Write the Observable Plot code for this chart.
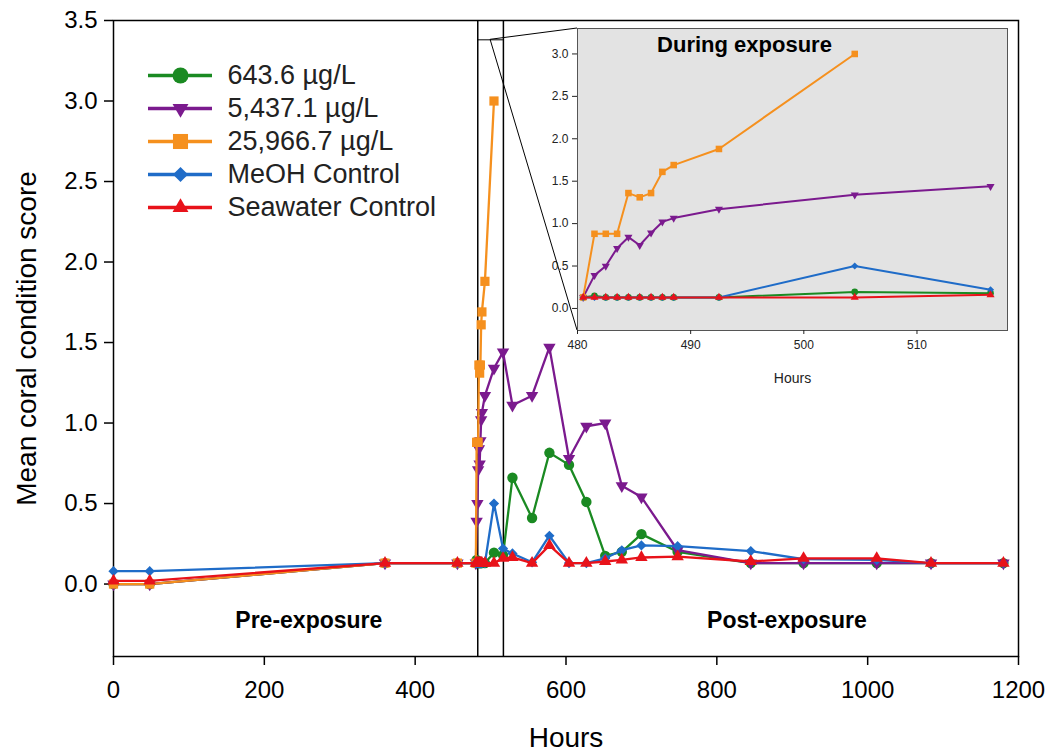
<!DOCTYPE html>
<html><head><meta charset="utf-8">
<script src="https://cdn.jsdelivr.net/npm/d3@7"></script>
<script src="https://cdn.jsdelivr.net/npm/@observablehq/plot@0.6"></script>
<style>
html,body{margin:0;padding:0;background:#fff;overflow:hidden;}
#wrap{position:relative;width:1053px;height:753px;font-family:"Liberation Sans",Arial,sans-serif;}
#wrap > div{position:absolute;}
</style></head>
<body><div id="wrap"><div id="main" style="left:0;top:0"></div><div id="inset"></div><div id="legend"></div></div>
<script>
// ---- data ----
const seriesNames = ["643.6 µg/L", "5,437.1 µg/L", "25,966.7 µg/L", "MeOH Control", "Seawater Control"];
const seriesColors = ["#1a8a22", "#7b1a8e", "#f5901e", "#1f6cc8", "#e8121a"];
const seriesSymbols = ["circle", "triangle", "square", "diamond2", "triangle"];
const seriesRotate = [0, 180, 0, 0, 0];

const hours = [0, 48, 360, 456,
  480.5, 481.5, 482.5, 483.5, 484.5, 485.5, 486.5, 487.5, 488.5, 492.5, 504.5, 516.5,
  529, 555, 578, 604, 627, 652, 674, 700, 748, 845, 915, 1012, 1084, 1180];

const green = [0, 0, 0.13, 0.13,
  0.13, 0.15, 0.13, 0.13, 0.13, 0.13, 0.13, 0.13, 0.13, 0.13, 0.195, 0.18,
  0.66, 0.41, 0.815, 0.74, 0.51, 0.175, 0.2, 0.31, 0.2, 0.13, 0.13, 0.13, 0.13, 0.13];
const purple = [0, 0, 0.13, 0.13,
  0.13, 0.39, 0.50, 0.71, 0.84, 0.745, 0.89, 1.02, 1.065, 1.17, 1.34, 1.44,
  1.11, 1.17, 1.47, 0.78, 0.98, 1.0, 0.61, 0.54, 0.21, 0.13, 0.13, 0.13, 0.13, 0.13];
const orange = [0, 0, 0.13, 0.13,
  0.13, 0.88, 0.88, 0.88, 1.36, 1.31, 1.36, 1.61, 1.69, 1.88, 3.0, null,
  null, null, null, null, null, null, null, null, null, null, null, null, null, null];
const blue = [0.08, 0.08, 0.13, 0.13,
  0.13, 0.13, 0.13, 0.13, 0.13, 0.13, 0.13, 0.13, 0.13, 0.13, 0.50, 0.22,
  0.19, 0.135, 0.30, 0.13, 0.13, 0.16, 0.21, 0.24, 0.235, 0.205, 0.155, 0.15, 0.13, 0.13];
const red = [0.02, 0.02, 0.13, 0.13,
  0.13, 0.13, 0.13, 0.13, 0.13, 0.13, 0.13, 0.13, 0.13, 0.13, 0.13, 0.16,
  0.165, 0.13, 0.24, 0.13, 0.13, 0.14, 0.15, 0.165, 0.17, 0.14, 0.16, 0.16, 0.13, 0.13];

const xTicks = [0, 200, 400, 600, 800, 1000, 1200];
const yTicks = [0, 0.5, 1, 1.5, 2, 2.5, 3, 3.5];
const insetXTicks = [480, 490, 500, 510];
const insetYTicks = [0, 0.5, 1, 1.5, 2, 2.5, 3];
const exposureBounds = [483, 517];
const phaseNames = ["Pre-exposure", "Post-exposure"];
const phaseHours = [259, 893];

// ---- build table ----
const seriesValues = [green, purple, orange, blue, red];
const rows = seriesValues.flatMap((vals, si) =>
  hours.map((h, i) => ({series: seriesNames[si], hours: h, score: vals[i]})).filter(d => d.score != null));
const phases = phaseNames.map((n, i) => ({name: n, hours: phaseHours[i]}));

const font = "'Liberation Sans', Arial, sans-serif";
function seriesMarks(data, sw, radii) {
  return seriesNames.flatMap((name, i) => {
    const d = data.filter(r => r.series === name);
    return [
      Plot.line(d, {x: "hours", y: "score", stroke: seriesColors[i], strokeWidth: sw}),
      Plot.dot(d, {x: "hours", y: "score", fill: seriesColors[i], stroke: "none",
        symbol: seriesSymbols[i], rotate: seriesRotate[i], r: radii[i]})
    ];
  });
}

const zoomTop = 3.38;

// ---- main chart ----
const main = Plot.plot({
  width: 1053, height: 753,
  marginLeft: 113, marginRight: 35, marginTop: 20, marginBottom: 97,
  style: {fontFamily: font, background: "transparent", color: "#000", overflow: "visible"},
  x: {domain: [0, 1200]},
  y: {domain: [-0.45, 3.5]},
  marks: [
    Plot.axisX({ticks: xTicks, tickSize: 9, tickPadding: 15, fontSize: 24, tickFormat: d3.format("d"), label: null, strokeWidth: 1.5}),
    Plot.axisY({ticks: yTicks, tickSize: 9, tickPadding: 7, fontSize: 24, tickFormat: d3.format(".1f"), label: null, strokeWidth: 1.5}),
    Plot.frame({stroke: "#000", strokeWidth: 1.5}),
    Plot.ruleX(exposureBounds, {stroke: "#000", strokeWidth: 1.5}),
    Plot.ruleY([zoomTop], {x1: () => exposureBounds[0], x2: () => exposureBounds[1], stroke: "#000", strokeWidth: 1}),
    ...seriesMarks(rows, 2.3, [5.2, 4.6, 5.2, 4.6, 4.6]),
    Plot.text(phases, {x: "hours", text: "name", frameAnchor: "bottom", lineAnchor: "middle", dy: -36, fontWeight: "bold", fontSize: 23, fill: "#000"}),
    Plot.text(["Hours"], {frameAnchor: "bottom", lineAnchor: "middle", dy: 82, fontSize: 28, fill: "#000"}),
    Plot.text(["Mean coral condition score"], {frameAnchor: "left", textAnchor: "middle", lineAnchor: "middle", dx: -86, rotate: -90, fontSize: 28, fill: "#000"})
  ]
});
document.getElementById("main").appendChild(main);

// ---- inset ----
const insetRows = rows.filter(d => d.hours >= 480 && d.hours <= 518);
const inset = Plot.plot({
  width: 483, height: 367,
  marginLeft: 45, marginRight: 8, marginTop: 5, marginBottom: 60,
  style: {fontFamily: font, background: "transparent", color: "#222", overflow: "visible"},
  x: {domain: [480, 518]},
  y: {domain: [-0.26, 3.3]},
  marks: [
    Plot.frame({fill: "#e3e3e3", stroke: "#555", strokeWidth: 1}),
    Plot.axisX({ticks: insetXTicks, tickSize: 4, tickPadding: 6, fontSize: 12, label: null}),
    Plot.axisY({ticks: insetYTicks, tickSize: 5, tickPadding: 4, fontSize: 12, tickFormat: d3.format(".1f"), label: null}),
    ...seriesMarks(insetRows, 2, [3.3, 3.0, 3.7, 3.2, 3.0]),
    Plot.text(["During exposure"], {frameAnchor: "top", lineAnchor: "middle", dx: -48, dy: 16, fontWeight: "bold", fontSize: 22, fill: "#000"}),
    Plot.text(["Hours"], {frameAnchor: "bottom", lineAnchor: "middle", dy: 48, fontSize: 14, fill: "#222"})
  ]
});
const insetPos = {left: 532, top: 23};
const insetDiv = document.getElementById("inset");
insetDiv.style.left = insetPos.left + "px";
insetDiv.style.top = insetPos.top + "px";
insetDiv.appendChild(inset);

// connector lines from zoom box to inset
const sx = main.scale("x"), sy = main.scale("y");
const ix = inset.scale("x"), iy = inset.scale("y");
const fromX = sx.apply((exposureBounds[0] + exposureBounds[1]) / 2), fromY = sy.apply(zoomTop);
const cornerX = insetPos.left + Math.min(...ix.range);
const corners = [insetPos.top + Math.min(...iy.range), insetPos.top + Math.max(...iy.range)];
d3.select(main).append("g").selectAll("line").data(corners).join("line")
  .attr("x1", fromX).attr("y1", fromY).attr("x2", cornerX).attr("y2", d => d)
  .attr("stroke", "#000").attr("stroke-width", 1);

// ---- legend ----
const legend = Plot.plot({
  width: 340, height: 175,
  marginLeft: 0, marginRight: 0, marginTop: 0, marginBottom: 0,
  style: {fontFamily: font, background: "transparent", color: "#222", overflow: "visible"},
  x: {domain: [0, 64], range: [0, 64], axis: null},
  y: {type: "point", domain: seriesNames, range: [15, 150], padding: 0, axis: null},
  marks: [
    ...seriesNames.flatMap((name, i) => [
      Plot.ruleY([name], {y: d => d, x1: () => 0, x2: () => 64, stroke: seriesColors[i], strokeWidth: 3.5}),
      Plot.dot([name], {y: d => d, x: () => 32, fill: seriesColors[i], stroke: "none",
        symbol: seriesSymbols[i], rotate: seriesRotate[i], r: [8, 5.9, 8.5, 6.8, 5.9][i]})
    ]),
    Plot.text(seriesNames, {y: d => d, x: () => 64, text: d => d, dx: 15, textAnchor: "start", fontSize: 27, fill: "#222"})
  ]
});
const legendDiv = document.getElementById("legend");
legendDiv.style.left = "148px";
legendDiv.style.top = "58px";
legendDiv.appendChild(legend);
</script>
</body></html>
